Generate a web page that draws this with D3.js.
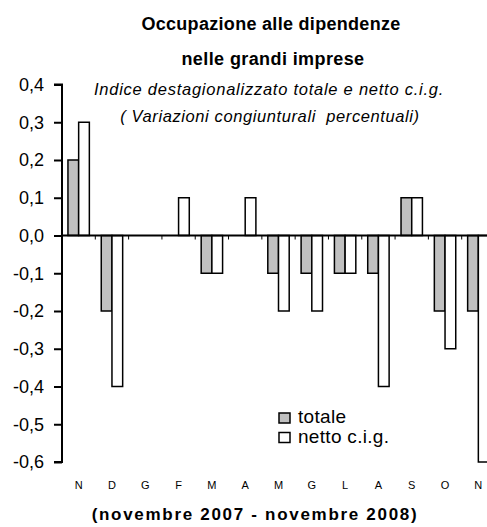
<!DOCTYPE html>
<html>
<head>
<meta charset="utf-8">
<script src="https://cdn.jsdelivr.net/npm/d3@7"></script>
<style>
  html, body { margin: 0; padding: 0; background: #fff; }
  svg { display: block; }
  text { font-family: "Liberation Sans", Arial, sans-serif; fill: #000; }
</style>
</head>
<body>
<script>
const months = ["N", "D", "G", "F", "M", "A", "M", "G", "L", "A", "S", "O", "N"];
const totale = [0.2, -0.2, 0, 0, -0.1, 0, -0.1, -0.1, -0.1, -0.1, 0.1, -0.2, -0.2];
const netto  = [0.3, -0.4, 0, 0.1, -0.1, 0.1, -0.2, -0.2, -0.1, -0.4, 0.1, -0.3, -0.6];
const yTicks = [0.4, 0.3, 0.2, 0.1, 0.0, -0.1, -0.2, -0.3, -0.4, -0.5, -0.6];
const seriesNames = ["totale", "netto c.i.g."];
const seriesColors = ["#c0c0c0", "#ffffff"];

const W = 487, H = 527;
const svg = d3.select("body").append("svg").attr("width", W).attr("height", H);

const left = 62, plotRight = 495;
const y = d3.scaleLinear().domain([-0.6, 0.4]).range([462, 84.5]);
const x = d3.scaleBand().domain(d3.range(months.length)).range([left, plotRight]).paddingInner(0).paddingOuter(0);
const bw = 10.7;

// Titles
svg.append("text").attr("x", 271).attr("y", 30).attr("text-anchor", "middle")
  .style("font-weight", "bold").style("font-size", "18px").style("letter-spacing", "0.3px")
  .text("Occupazione alle dipendenze");
svg.append("text").attr("x", 273).attr("y", 65).attr("text-anchor", "middle")
  .style("font-weight", "bold").style("font-size", "18px").style("letter-spacing", "0.4px")
  .text("nelle grandi imprese");
svg.append("text").attr("x", 269).attr("y", 95).attr("text-anchor", "middle")
  .style("font-style", "italic").style("font-size", "16.5px").style("letter-spacing", "0.75px")
  .text("Indice destagionalizzato totale e netto c.i.g.");
svg.append("text").attr("x", 270).attr("y", 122).attr("text-anchor", "middle")
  .style("font-style", "italic").style("font-size", "16.5px").style("letter-spacing", "0.6px")
  .attr("xml:space", "preserve")
  .text("( Variazioni congiunturali  percentuali)");

// Bars
const data = months.map((m, i) => ({ i, vals: [totale[i], netto[i]] }));
const groups = svg.append("g").selectAll("g").data(data).join("g");
groups.selectAll("rect").data(d => d.vals.map((v, k) => ({ i: d.i, k, v })).filter(e => e.v !== 0))
  .join("rect")
  .attr("x", e => x(e.i) + x.bandwidth() / 2 - bw + e.k * bw)
  .attr("width", bw)
  .attr("y", e => y(Math.max(0, e.v)))
  .attr("height", e => Math.abs(y(e.v) - y(0)))
  .attr("fill", e => seriesColors[e.k])
  .attr("stroke", "#000").attr("stroke-width", 1.5);

// Y axis
const yAxis = d3.axisLeft(y).tickValues(yTicks).tickSize(8).tickPadding(10)
  .tickFormat(d => d3.format(".1f")(d).replace(".", ",").replace("−", "-"));
const gy = svg.append("g").attr("transform", `translate(${left},0)`).call(yAxis);
gy.select(".domain").attr("stroke-width", 2).attr("d", `M-8,${y(0.4)}H0V${y(-0.6)}H-8`);
gy.selectAll(".tick line").attr("stroke-width", 2);
gy.selectAll(".tick text").style("font-size", "18px").style("font-family", "Liberation Sans, Arial, sans-serif").attr("fill", "#000");

// Zero line with category ticks
const gx = svg.append("g").attr("transform", `translate(0,${y(0)})`);
gx.append("line").attr("x1", left).attr("x2", plotRight).attr("stroke", "#000").attr("stroke-width", 2);
gx.selectAll("line.t").data(d3.range(1, months.length)).join("line").attr("class", "t")
  .attr("x1", i => x(i)).attr("x2", i => x(i)).attr("y1", 0).attr("y2", 4)
  .attr("stroke", "#000").attr("stroke-width", 1);

// Month labels
svg.append("g").selectAll("text").data(months).join("text")
  .attr("x", (m, i) => x(i) + x.bandwidth() / 2).attr("y", 489)
  .attr("text-anchor", "middle").style("font-size", "11px").text(m => m);

// Bottom title
svg.append("text").attr("x", 255).attr("y", 520).attr("text-anchor", "middle")
  .style("font-weight", "bold").style("font-size", "17px").style("letter-spacing", "1.7px")
  .text("(novembre 2007 - novembre 2008)");

// Legend
const lg = svg.append("g").attr("transform", "translate(279,413)");
seriesNames.forEach((n, k) => {
  lg.append("rect").attr("x", 0).attr("y", k * 19.5).attr("width", 11).attr("height", 10)
    .attr("fill", seriesColors[k]).attr("stroke", "#000").attr("stroke-width", 1.5);
  lg.append("text").attr("x", 19).attr("y", k * 19.5 + 10).style("font-size", "19px")
    .style("letter-spacing", "0.3px").text(n);
});
</script>
</body>
</html>
